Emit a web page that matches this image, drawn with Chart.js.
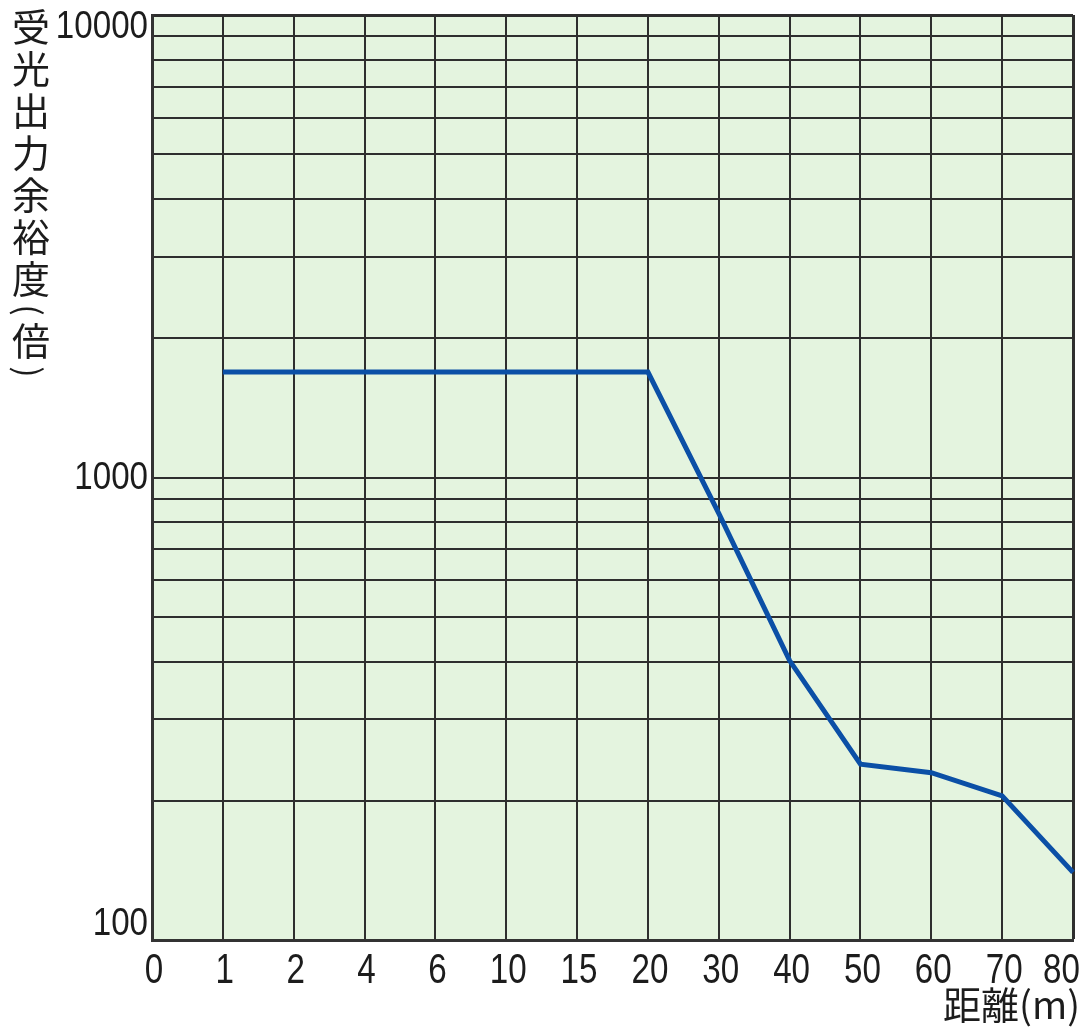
<!DOCTYPE html>
<html>
<head>
<meta charset="utf-8">
<script src="https://cdn.jsdelivr.net/npm/chart.js@4.4.1/dist/chart.umd.min.js"></script>
<style>
html, body { margin: 0; padding: 0; background: #fff; }
#wrap { width: 1088px; height: 1032px; }
</style>
</head>
<body>
<div id="wrap"><canvas id="marginChart"></canvas></div>
<script>
// distance (m) categories, equally spaced on the chart
const distanceLabels = ['0', '1', '2', '4', '6', '10', '15', '20', '30', '40', '50', '60', '70', '80'];
// received light margin (times)
const marginValues = [null, 1690, 1690, 1690, 1690, 1690, 1690, 1690, 836, 402, 240, 230, 205, 140];
const yTickLabels = [100, 1000, 10000];
const yTitleChars = ['受', '光', '出', '力', '余', '裕', '度', '(', '倍', ')'];
const xTitle = '距離(m)';

// log grid: 1..9 in each decade plus the top line
const yGridValues = [];
[100, 1000].forEach(d => {
    for (let i = 1; i <= 9; i++) yGridValues.push(d * i);
});
yGridValues.push(10000);

const TEXT = '#1c1c1c';
const GRID = '#2e2e2e';

const plotBackground = {
    id: 'plotBackground',
    beforeDraw(chart) {
        const { ctx, chartArea: a } = chart;
        ctx.save();
        ctx.fillStyle = '#e4f4df';
        ctx.fillRect(a.left, a.top, a.right - a.left, a.bottom - a.top);
        ctx.restore();
    }
};

// narrow digits like the original, drawn at the scale positions
function narrowText(ctx, text, x, y, sx, align) {
    ctx.save();
    ctx.translate(x, y);
    ctx.scale(sx, 1);
    ctx.textAlign = align;
    ctx.fillText(text, 0, 0);
    ctx.restore();
}

const axisText = {
    id: 'axisText',
    afterDraw(chart) {
        const { ctx, chartArea: a, scales } = chart;
        ctx.save();
        ctx.fillStyle = TEXT;
        ctx.textBaseline = 'alphabetic';

        // y tick labels
        ctx.font = '39px "Liberation Sans", sans-serif';
        yTickLabels.forEach(v => {
            const py = scales.y.getPixelForValue(v);
            const base = Math.min(Math.max(py + 11, a.top + 23), a.bottom - 5);
            narrowText(ctx, String(v), a.left - 4, base, 0.85, 'right');
        });

        // x tick labels
        ctx.font = '42px "Liberation Sans", sans-serif';
        distanceLabels.forEach((lab, i) => {
            const px = scales.x.getPixelForValue(i);
            const w = ctx.measureText(lab).width * 0.79;
            const cx = Math.min(px + 2, chart.width - 8 - w / 2);
            narrowText(ctx, lab, cx, a.bottom + 43, 0.79, 'center');
        });

        // y title, stacked vertically
        ctx.font = '38px "Noto Sans CJK JP", sans-serif';
        ctx.textAlign = 'center';
        ctx.textBaseline = 'middle';
        let y = 6;
        yTitleChars.forEach(ch => {
            if (ch === '(' || ch === ')') {
                y += 10;
                ctx.save();
                ctx.translate(31, y);
                ctx.rotate(Math.PI / 2);
                ctx.font = '34px "Noto Sans CJK JP", sans-serif';
                ctx.fillText(ch, 0, 2);
                ctx.restore();
                y += 10;
            } else {
                y += 21;
                ctx.fillText(ch, 31, y);
                y += 21;
            }
        });

        // x title
        ctx.textAlign = 'right';
        ctx.fillText(xTitle, 1080, 1005);
        ctx.restore();
    }
};

new Chart(document.getElementById('marginChart').getContext('2d'), {
    type: 'line',
    data: {
        labels: distanceLabels,
        datasets: [{
            label: '受光出力余裕度',
            data: marginValues,
            borderColor: '#0b4fa6',
            borderWidth: 5,
            pointRadius: 0,
            tension: 0,
            fill: false
        }]
    },
    options: {
        responsive: true,
        maintainAspectRatio: false,
        animation: false,
        layout: { padding: { left: 0, top: 15, right: 15, bottom: 0 } },
        plugins: { legend: { display: false }, tooltip: { enabled: false } },
        scales: {
            x: {
                type: 'category',
                offset: false,
                ticks: { display: false },
                grid: {
                    color: GRID,
                    lineWidth: c => (c.index === distanceLabels.length - 1 ? 3 : 2),
                    drawTicks: false
                },
                border: { display: true, color: '#333', width: 3 },
                afterFit: s => { s.height = 92; }
            },
            y: {
                type: 'logarithmic',
                min: 100,
                max: 10000,
                afterBuildTicks: s => { s.ticks = yGridValues.map(v => ({ value: v })); },
                ticks: { display: false },
                grid: {
                    color: GRID,
                    lineWidth: c => (c.tick && c.tick.value === 10000 ? 3 : 2),
                    drawTicks: false
                },
                border: { display: true, color: '#333', width: 3 },
                afterFit: s => { s.width = 152; }
            }
        }
    },
    plugins: [plotBackground, axisText]
});
</script>
</body>
</html>
